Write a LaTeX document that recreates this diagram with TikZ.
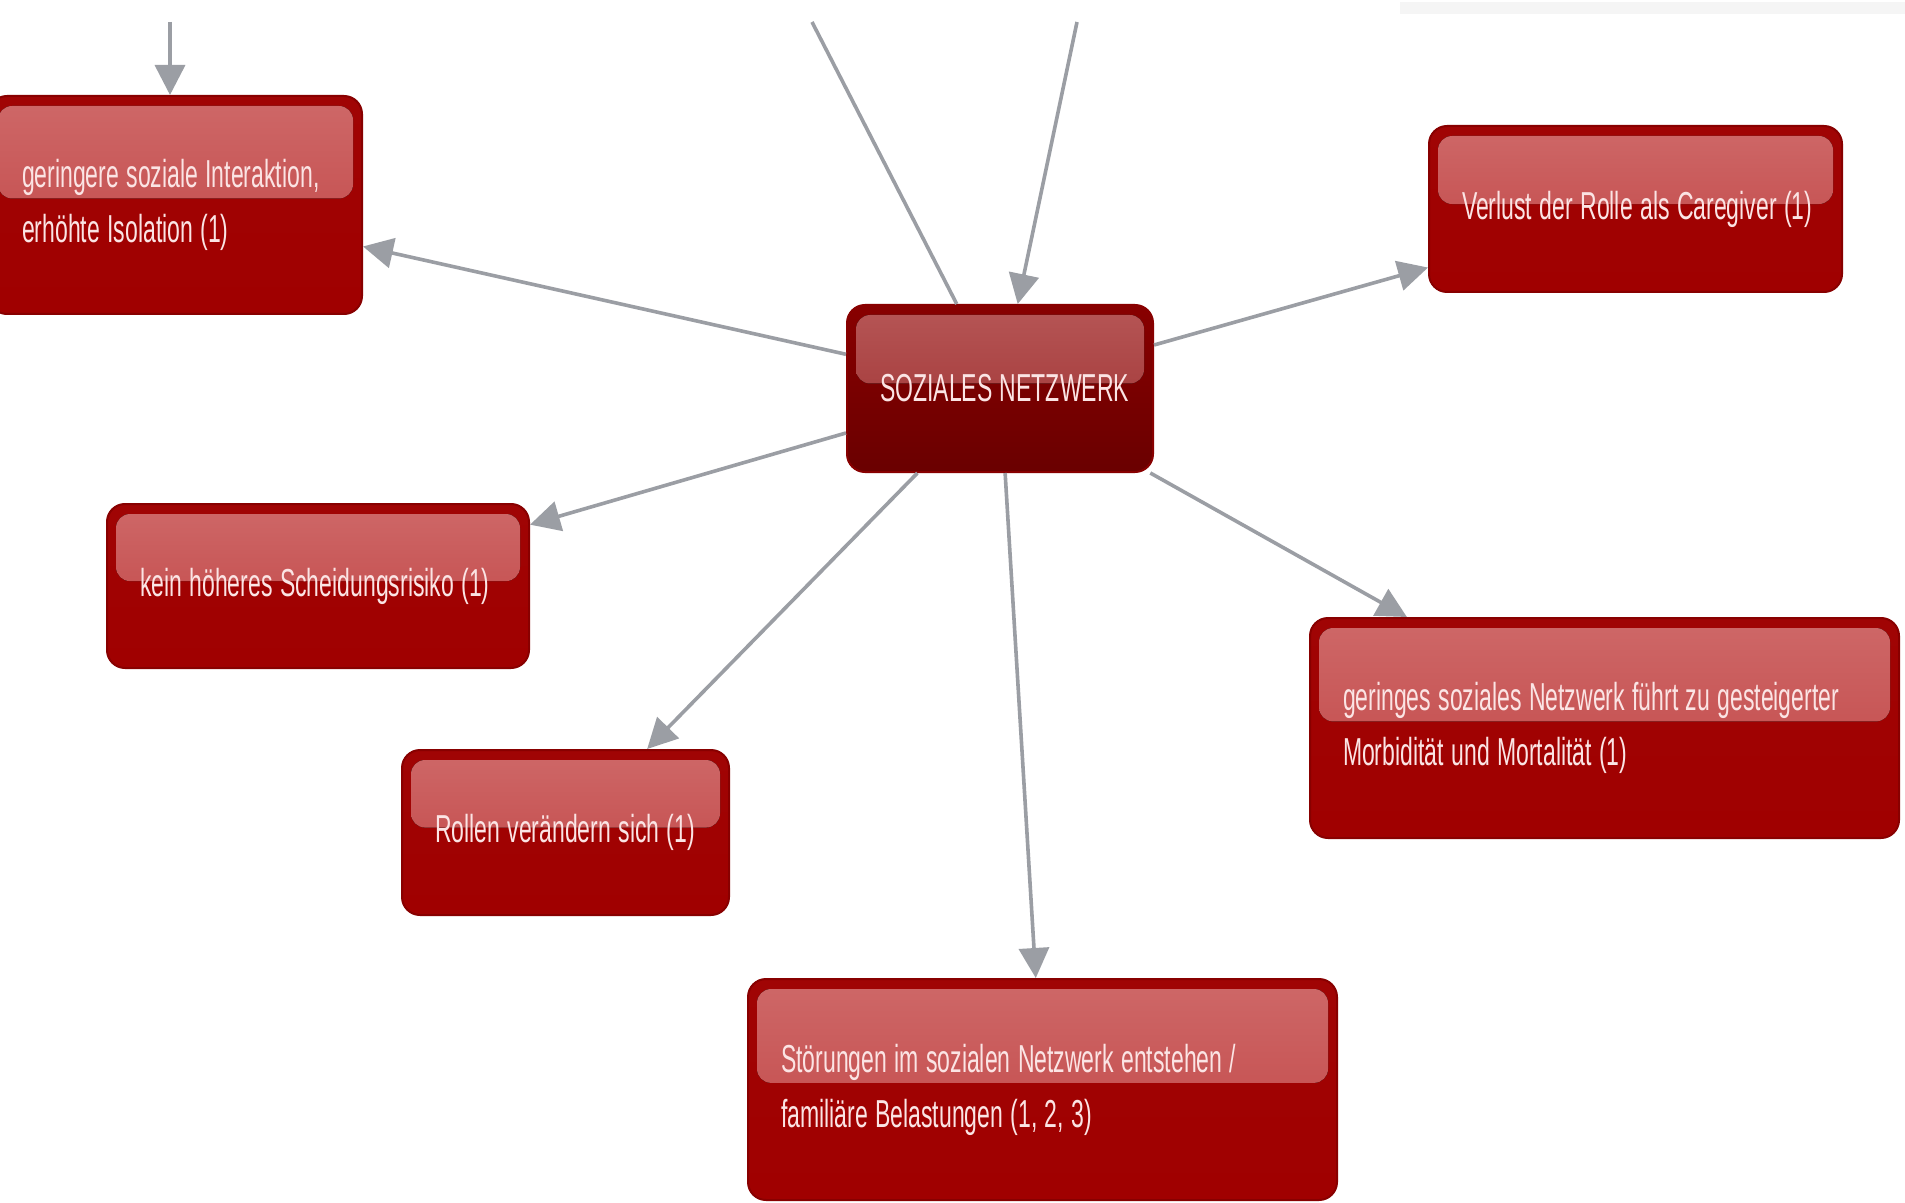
\documentclass[tikz,border=0pt]{standalone}
\usepackage{fontspec}
\setmainfont{Liberation Sans}[FakeStretch=0.59,WordSpace=0.62]
\usetikzlibrary{arrows.meta,calc}
\definecolor{boxborder}{HTML}{880000}
\definecolor{boxbody}{HTML}{A00000}
\definecolor{boxbodytop}{HTML}{A00404}
\definecolor{glosstop}{HTML}{CE6868}
\definecolor{glossbot}{HTML}{C04242}
\definecolor{cbody}{HTML}{880000}
\definecolor{cbodybot}{HTML}{6A0000}
\definecolor{cglosstop}{HTML}{B65656}
\definecolor{cglossbot}{HTML}{9C2E2E}
\definecolor{txtcol}{HTML}{FBE4E4}
\definecolor{arrowgray}{HTML}{9B9EA4}
\tikzset{
  gloss/.style 2 args={path picture={
    \fill[rounded corners=7pt, top color=#1, bottom color=#2]
      ([xshift=4.5pt,yshift=-5pt]path picture bounding box.north west) rectangle
      ([xshift=-4.5pt]$(path picture bounding box.north east)!0.47!(path picture bounding box.south east)$);
  }},
  redbox/.style={draw=boxborder, line width=1pt, rounded corners=9pt,
    top color=boxbodytop, bottom color=boxbody, text=txtcol,
    font={\fontsize{19.5}{27.5}\selectfont},
    align=flush left, inner xsep=16.5pt, inner ysep=0pt,
    execute at begin node={\spaceskip=3.7pt\relax\xspaceskip=3.7pt\relax},
    gloss={glosstop}{glossbot}},
  centerbox/.style={redbox, top color=cbody, bottom color=cbodybot,
    gloss={cglosstop}{cglossbot}, align=flush center},
  link/.style={draw=arrowgray, line width=1.8pt},
  arr/.style={link, -{Triangle[length=15pt,width=15pt]}},
}
\begin{document}
\begin{tikzpicture}[x=0.5pt,y=-0.5pt]
\useasboundingbox (0,0) rectangle (1905,1203);
\fill[white] (0,0) rectangle (1905,1203);
\fill[black!4] (1400,2) rectangle (1905,14);

\node[redbox, minimum width=186.5pt, minimum height=109pt, text width=153.5pt] (A) at (175.5,205)
  {\mbox{geringere soziale Interaktion,}\\\mbox{erhöhte Isolation (1)}};
\node[centerbox, minimum width=153pt, minimum height=83.5pt, text width=120pt] (B) at (1000,388.5)
  {\mbox{SOZIALES NETZWERK}};
\node[redbox, minimum width=206.5pt, minimum height=83pt, text width=173.5pt] (C) at (1635.5,209)
  {\mbox{Verlust der Rolle als Caregiver (1)}};
\node[redbox, minimum width=211pt, minimum height=82pt, text width=178pt] (D) at (318,586)
  {\mbox{kein höheres Scheidungsrisiko (1)}};
\node[redbox, minimum width=163.5pt, minimum height=82.5pt, text width=130.5pt] (E) at (565.5,832.5)
  {\mbox{Rollen verändern sich (1)}};
\node[redbox, minimum width=294.5pt, minimum height=110pt, text width=261.5pt] (F) at (1604.5,728)
  {\mbox{geringes soziales Netzwerk führt zu gesteigerter}\\\mbox{Morbidität und Mortalität (1)}};
\node[redbox, minimum width=294.5pt, minimum height=110.5pt, text width=261.5pt] (G) at (1042.5,1089.5)
  {\mbox{Störungen im sozialen Netzwerk entstehen /}\\\mbox{familiäre Belastungen (1, 2, 3)}};

\coordinate (t1) at (812,22);
\coordinate (t2) at (1077,22);
\coordinate (t3) at (170,22);

\draw[link] (B) -- (t1);
\draw[arr] (t2) -- (B);
\draw[arr] (t3) -- (t3 |- A.north);
\draw[arr] (B) -- (A);
\draw[arr] (B) -- (C);
\draw[arr] (B) -- (D);
\draw[arr] (B) -- (E);
\draw[arr] (B) -- (F);
\draw[arr] (B) -- (G);
\end{tikzpicture}
\end{document}
